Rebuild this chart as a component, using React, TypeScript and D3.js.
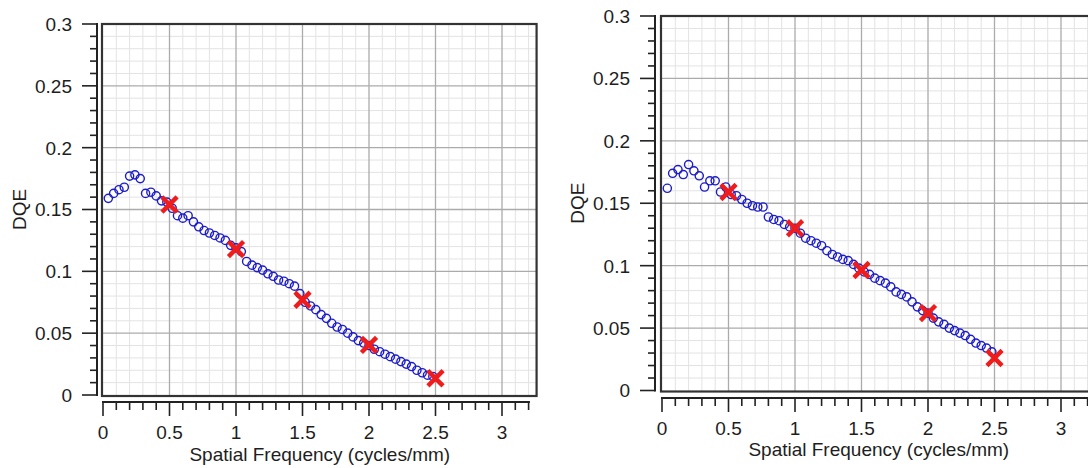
import React from "react";
import * as d3 from "d3";

// ---------- data ----------
const FREQ = [
  0.04, 0.08, 0.12, 0.16, 0.2, 0.24, 0.28, 0.32, 0.36, 0.4, 0.44, 0.48, 0.52, 0.56, 0.6, 0.64,
  0.68, 0.72, 0.76, 0.8, 0.84, 0.88, 0.92, 0.96, 1.0, 1.04, 1.08, 1.12, 1.16, 1.2, 1.24, 1.28,
  1.32, 1.36, 1.4, 1.44, 1.48, 1.52, 1.56, 1.6, 1.64, 1.68, 1.72, 1.76, 1.8, 1.84, 1.88, 1.92,
  1.96, 2.0, 2.04, 2.08, 2.12, 2.16, 2.2, 2.24, 2.28, 2.32, 2.36, 2.4, 2.44, 2.48,
];

const LEFT_DQE = [
  0.159, 0.163, 0.166, 0.168, 0.177, 0.178, 0.175, 0.163, 0.164, 0.161, 0.157, 0.156, 0.151, 0.145,
  0.143, 0.145, 0.14, 0.136, 0.133, 0.131, 0.129, 0.127, 0.125, 0.121, 0.119, 0.116, 0.108, 0.105,
  0.103, 0.101, 0.098, 0.096, 0.093, 0.092, 0.09, 0.088, 0.082, 0.075, 0.072, 0.069, 0.065, 0.062,
  0.058, 0.055, 0.053, 0.05, 0.047, 0.044, 0.042, 0.04, 0.037, 0.035, 0.033, 0.031, 0.029, 0.027,
  0.025, 0.023, 0.02, 0.018, 0.016, 0.015,
];

const RIGHT_DQE = [
  0.162, 0.174, 0.177, 0.173, 0.181, 0.176, 0.172, 0.163, 0.168, 0.168, 0.159, 0.163, 0.157, 0.156,
  0.153, 0.15, 0.148, 0.147, 0.147, 0.139, 0.137, 0.136, 0.133, 0.131, 0.13, 0.126, 0.122, 0.12,
  0.118, 0.116, 0.112, 0.109, 0.107, 0.105, 0.104, 0.101, 0.098, 0.095, 0.093, 0.09, 0.088, 0.086,
  0.083, 0.079, 0.077, 0.075, 0.071, 0.067, 0.064, 0.062, 0.058, 0.055, 0.053, 0.05, 0.048, 0.046,
  0.044, 0.041, 0.038, 0.036, 0.034, 0.031,
];

const MARK_FREQ = [0.5, 1.0, 1.5, 2.0, 2.5];
const LEFT_MARK = [0.154, 0.118, 0.077, 0.0405, 0.0135];
const RIGHT_MARK = [0.159, 0.13, 0.0965, 0.062, 0.026];

const X_TICK_VALUES = [0, 0.5, 1, 1.5, 2, 2.5, 3];
const X_TICK_LABELS = ["0", "0.5", "1", "1.5", "2", "2.5", "3"];
const Y_TICK_VALUES = [0, 0.05, 0.1, 0.15, 0.2, 0.25, 0.3];
const Y_TICK_LABELS = ["0", "0.05", "0.1", "0.15", "0.2", "0.25", "0.3"];

const X_LABEL = "Spatial Frequency (cycles/mm)";
const Y_LABEL = "DQE";

// ---------- styling ----------
const FONT = "'Liberation Sans', Arial, Helvetica, sans-serif";
const FS = 19;
const TXT = "#1e1e1e";
const BLUE = "#1c1cc8";
const RED = "#f01c1c";

type PanelCfg = {
  x0: number;
  top: number;
  bottom: number;
  yAxisX: number;
  xAxisY: number;
  xLabelY: number;
  titleY: number;
  dqeX: number;
  values: number[];
  marks: number[];
};

const PX_PER_UNIT = 133;
const X_MAX = 3.26;

function Panel({ cfg }: { cfg: PanelCfg }) {
  const x = d3.scaleLinear().domain([0, X_MAX]).range([cfg.x0, cfg.x0 + X_MAX * PX_PER_UNIT]);
  const y = d3.scaleLinear().domain([0, 0.3]).range([cfg.bottom, cfg.top]);

  const minorX = d3.range(1, 33).map((i) => i / 10);
  const minorY = d3.range(1, 30).map((i) => i / 100);
  const isMajorX = (v: number) => Math.abs(v * 2 - Math.round(v * 2)) < 1e-6;
  const isMajorY = (v: number) => Math.abs(v * 20 - Math.round(v * 20)) < 1e-6;

  const fl = x(0) - 1;
  const fr = x(X_MAX);
  const ft = y(0.3);
  const fb = y(0) + 1;

  const xTicks = d3.range(0, 33).map((i) => i / 10);
  const yTicks = d3.range(0, 31).map((i) => i / 100);

  const arm = 6;

  return (
    <g>
      {minorX.filter((v) => !isMajorX(v) && x(v) < fr).map((v, i) => (
        <line key={"mx" + i} x1={x(v)} x2={x(v)} y1={ft} y2={fb} stroke="#e3e3e3" strokeWidth={1} />
      ))}
      {minorY.filter((v) => !isMajorY(v)).map((v, i) => (
        <line key={"my" + i} x1={fl} x2={fr} y1={y(v)} y2={y(v)} stroke="#e3e3e3" strokeWidth={1} />
      ))}
      {X_TICK_VALUES.filter((v) => v > 0).map((v, i) => (
        <line key={"Mx" + i} x1={x(v)} x2={x(v)} y1={ft} y2={fb} stroke="#ababab" strokeWidth={1.3} />
      ))}
      {Y_TICK_VALUES.filter((v) => v > 0 && v < 0.3).map((v, i) => (
        <line key={"My" + i} x1={fl} x2={fr} y1={y(v)} y2={y(v)} stroke="#ababab" strokeWidth={1.3} />
      ))}
      <rect x={fl} y={ft} width={fr - fl} height={fb - ft} fill="none" stroke="#333" strokeWidth={2.2} />

      <line x1={cfg.yAxisX} x2={cfg.yAxisX} y1={y(0) + 1} y2={y(0.3) - 1} stroke="#222" strokeWidth={2} />
      {yTicks.map((v, i) => {
        const major = i % 5 === 0;
        return (
          <line
            key={"yt" + i}
            x1={cfg.yAxisX}
            x2={cfg.yAxisX - (major ? 15 : 7)}
            y1={y(v)}
            y2={y(v)}
            stroke="#222"
            strokeWidth={1.6}
          />
        );
      })}
      {Y_TICK_VALUES.map((v, i) => (
        <text
          key={"yl" + i}
          x={cfg.yAxisX - 25}
          y={y(v)}
          dy="0.36em"
          textAnchor="end"
          fontFamily={FONT}
          fontSize={FS}
          fill={TXT}
        >
          {Y_TICK_LABELS[i]}
        </text>
      ))}
      <text
        transform={`translate(${cfg.dqeX},${(y(0) + y(0.3)) / 2}) rotate(-90)`}
        dy="0.36em"
        textAnchor="middle"
        fontFamily={FONT}
        fontSize={FS}
        fill={TXT}
      >
        {Y_LABEL}
      </text>

      <line x1={x(0) - 1} x2={x(3.21)} y1={cfg.xAxisY} y2={cfg.xAxisY} stroke="#222" strokeWidth={2} />
      {xTicks.map((v, i) => {
        const major = i % 5 === 0;
        return (
          <line
            key={"xt" + i}
            x1={x(v)}
            x2={x(v)}
            y1={cfg.xAxisY}
            y2={cfg.xAxisY + (major ? 14 : 8)}
            stroke="#222"
            strokeWidth={1.6}
          />
        );
      })}
      {X_TICK_VALUES.map((v, i) => (
        <text
          key={"xl" + i}
          x={x(v)}
          y={cfg.xLabelY}
          textAnchor="middle"
          fontFamily={FONT}
          fontSize={FS}
          fill={TXT}
        >
          {X_TICK_LABELS[i]}
        </text>
      ))}
      <text
        x={(x(0) + x(X_MAX)) / 2}
        y={cfg.titleY}
        textAnchor="middle"
        fontFamily={FONT}
        fontSize={FS}
        fill={TXT}
      >
        {X_LABEL}
      </text>

      {FREQ.map((f, i) => (
        <circle
          key={"c" + i}
          cx={x(f)}
          cy={y(cfg.values[i])}
          r={4.1}
          fill="none"
          stroke={BLUE}
          strokeWidth={1.4}
        />
      ))}
      {MARK_FREQ.map((f, i) => {
        const cx = x(f);
        const cy = y(cfg.marks[i]);
        return (
          <path
            key={"m" + i}
            d={`M${cx - arm},${cy - arm}L${cx + arm},${cy + arm}M${cx - arm},${cy + arm}L${cx + arm},${cy - arm}`}
            stroke={RED}
            strokeWidth={4.5}
            strokeLinecap="square"
            fill="none"
          />
        );
      })}
    </g>
  );
}

const LEFT_CFG: PanelCfg = {
  x0: 103,
  top: 24,
  bottom: 395,
  yAxisX: 97,
  xAxisY: 402,
  xLabelY: 439,
  titleY: 461,
  dqeX: 19,
  values: LEFT_DQE,
  marks: LEFT_MARK,
};

const RIGHT_CFG: PanelCfg = {
  x0: 662,
  top: 16,
  bottom: 390.5,
  yAxisX: 655,
  xAxisY: 398,
  xLabelY: 435,
  titleY: 456,
  dqeX: 577,
  values: RIGHT_DQE,
  marks: RIGHT_MARK,
};

export default function App() {
  return (
    <div style={{ position: "absolute", left: 0, top: 0, width: 1088, height: 468, background: "#fff" }}>
      <svg width={1088} height={468} style={{ display: "block" }}>
        <rect width={1088} height={468} fill="#fff" />
        <Panel cfg={LEFT_CFG} />
        <Panel cfg={RIGHT_CFG} />
      </svg>
    </div>
  );
}
